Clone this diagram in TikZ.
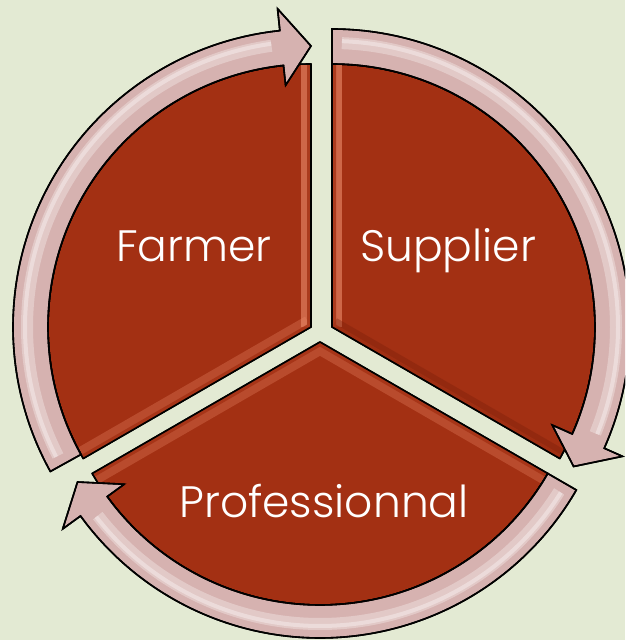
\documentclass[tikz,border=0pt]{standalone}
\usepackage{fontspec}
\setmainfont{Poppins}[UprightFont=* Light]
\definecolor{bgcol}{RGB}{227,234,211}
\definecolor{secred}{RGB}{163,48,19}
\definecolor{darkred}{RGB}{120,30,10}
\definecolor{ringpink}{RGB}{214,178,176}
\definecolor{salmon}{RGB}{236,140,108}
\begin{document}
\begin{tikzpicture}[x=1pt,y=1pt,
  sector/.style={fill=secred, draw=black, line width=1.6pt, line join=round},
  outl/.style={draw=black, line width=1.6pt, line join=round},
  ringarrow/.style={fill=ringpink, draw=black, line width=1.6pt, line join=miter},
  gloss/.style={white, opacity=.3, line width=12pt},
  glosscore/.style={white, opacity=.35, line width=4pt},
  txt/.style={text=white, font=\fontsize{44}{52}\selectfont}]
\useasboundingbox (0,0) rectangle (625,640);
\fill[bgcol] (0,0) rectangle (625,640);
\clip (0,0) rectangle (625,640);
\coordinate (cf) at (311,313);
\coordinate (cs) at (332,313);
\coordinate (cp) at (320,298);
\def\farmersec{(0,0) -- (90:263pt) arc[start angle=90,end angle=210,radius=263pt] -- cycle}
\def\suppliersec{(0,0) -- (-30:263pt) arc[start angle=-30,end angle=90,radius=263pt] -- cycle}
\def\profsec{(0,0) -- (210:263pt) arc[start angle=210,end angle=330,radius=263pt] -- cycle}
\def\farmerring{(209:263pt) arc[start angle=209,end angle=96,radius=263pt] -- (96:243pt) -- (90:281pt) -- (96:320pt) -- (96:298pt) arc[start angle=96,end angle=209,radius=298pt] -- cycle}
\def\supplierring{(90:263pt) arc[start angle=90,end angle=-24,radius=263pt] -- (-24:241pt) -- (-30:279pt) -- (-24:318pt) -- (-24:298pt) arc[start angle=-24,end angle=90,radius=298pt] -- cycle}
\def\profring{(-30:263pt) arc[start angle=-30,end angle=-144,radius=263pt] -- (-144:242pt) -- (-150:280pt) -- (-144:318pt) -- (-144:296pt) arc[start angle=-144,end angle=-30,radius=296pt] -- cycle}
% sectors
\begin{scope}[shift={(cf)}]
  \path[sector] \farmersec;
  \begin{scope}\clip \farmersec;
    \draw[salmon, opacity=.6, line width=20pt] (90:300pt) -- (0,0);
    \draw[salmon, opacity=.3, line width=24pt] (0,0) -- (210:300pt);
    \draw[secred, opacity=.8, line width=8pt] (90:300pt) -- (0,0) -- (210:300pt);
  \end{scope}
  \path[outl] \farmersec;
\end{scope}
\begin{scope}[shift={(cs)}]
  \path[sector] \suppliersec;
  \begin{scope}\clip \suppliersec;
    \draw[salmon, opacity=.6, line width=20pt] (90:300pt) -- (0,0);
    \draw[darkred, opacity=.35, line width=20pt] (0,0) -- (-30:300pt);
    \draw[secred, opacity=.8, line width=8pt] (90:300pt) -- (0,0) -- (-30:300pt);
  \end{scope}
  \path[outl] \suppliersec;
\end{scope}
\begin{scope}[shift={(cp)}]
  \path[sector] \profsec;
  \begin{scope}\clip \profsec;
    \draw[salmon, opacity=.3, line width=24pt] (210:300pt) -- (0,0) -- (330:300pt);
    \draw[secred, opacity=.8, line width=8pt] (210:300pt) -- (0,0) -- (330:300pt);
  \end{scope}
  \path[outl] \profsec;
\end{scope}
% ring arrows
\begin{scope}[shift={(cf)}]
  \path[ringarrow] \farmerring;
  \begin{scope}\clip \farmerring;
    \draw[gloss] (207:284pt) arc[start angle=207,end angle=98,radius=284pt];
    \draw[glosscore] (207:286pt) arc[start angle=207,end angle=98,radius=286pt];
  \end{scope}
  \path[outl] \farmerring;
\end{scope}
\begin{scope}[shift={(cs)}]
  \path[ringarrow] \supplierring;
  \begin{scope}\clip \supplierring;
    \draw[gloss] (88:284pt) arc[start angle=88,end angle=-22,radius=284pt];
    \draw[glosscore] (88:286pt) arc[start angle=88,end angle=-22,radius=286pt];
  \end{scope}
  \path[outl] \supplierring;
\end{scope}
\begin{scope}[shift={(cp)}]
  \path[ringarrow] \profring;
  \begin{scope}\clip \profring;
    \draw[gloss] (-32:282pt) arc[start angle=-32,end angle=-142,radius=282pt];
    \draw[glosscore] (-32:284pt) arc[start angle=-32,end angle=-142,radius=284pt];
  \end{scope}
  \path[outl] \profring;
\end{scope}
% labels
\node[txt, anchor=base] (farmer) at (194,378) {Farmer};
\node[txt, anchor=base] (supplier) at (448,378) {Supplier};
\node[txt, anchor=base] (prof) at (324,122) {Professionnal};
\end{tikzpicture}
\end{document}
